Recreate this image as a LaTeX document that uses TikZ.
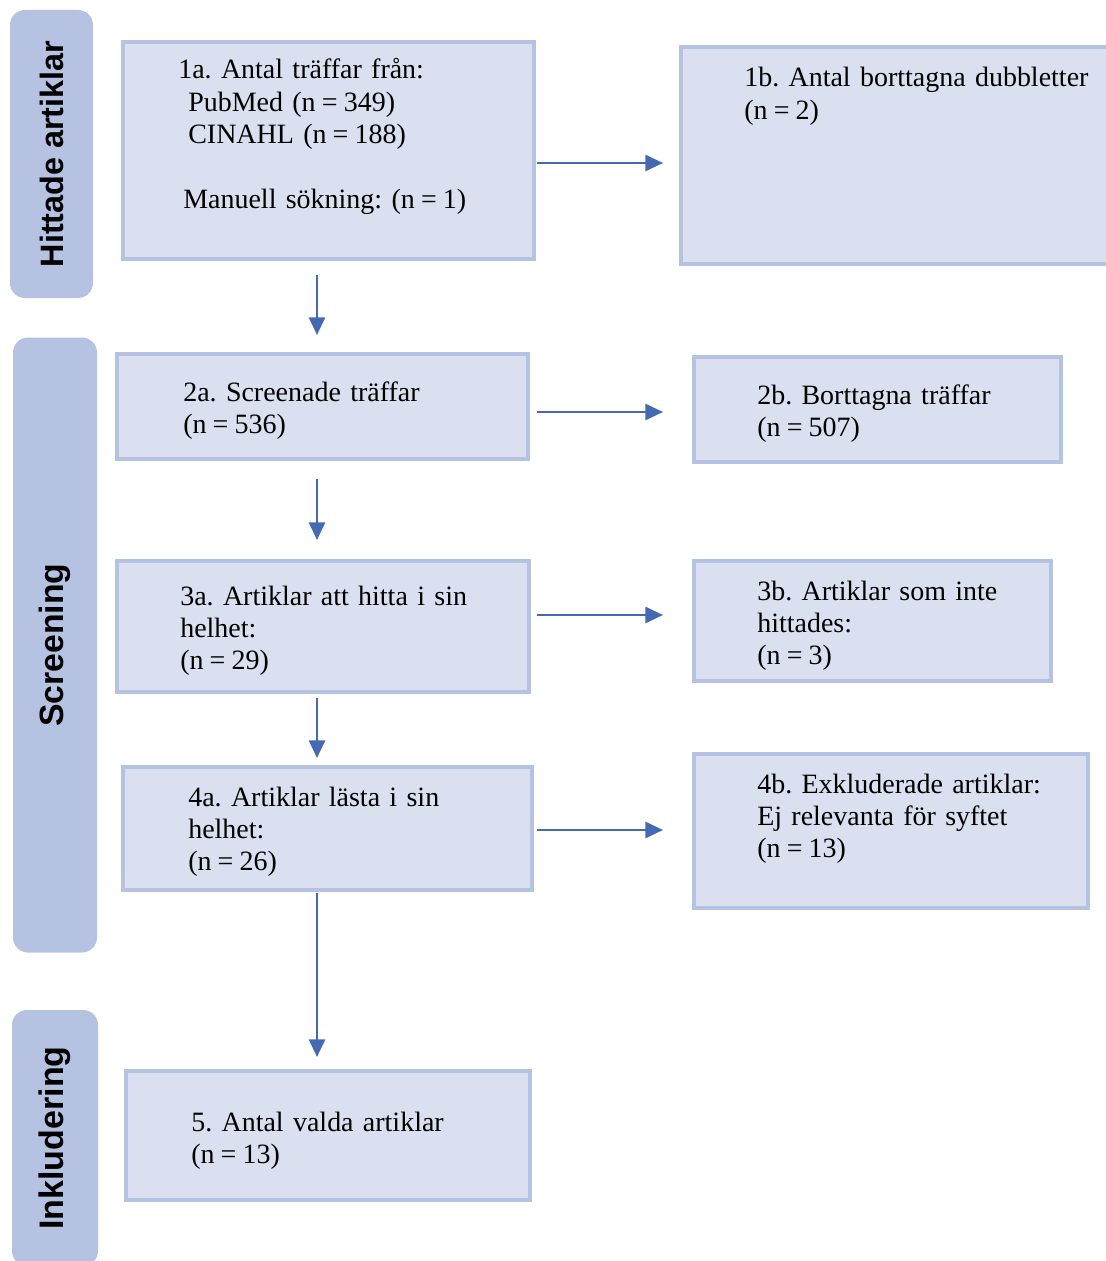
\documentclass[tikz,border=0pt]{standalone}
\usepackage{fontspec}
\setmainfont{Liberation Serif}
\newfontfamily\sidefont{Liberation Sans}
\usetikzlibrary{positioning, arrows.meta, math, calc}

\definecolor{boxFill}{HTML}{DAE0F0}
\definecolor{boxLine}{HTML}{B5C2E2}
\definecolor{sideFill}{HTML}{B5C2E2}
\definecolor{arrowBlue}{HTML}{4669B4}

\begin{document}
\frenchspacing
\begin{tikzpicture}[x=0.25mm, y=-0.25mm]
		\tikzmath{
			\px     = 0.25;  %one pixel of the reference, in mm
			\lineW  = 4;     %box border width
			\arrW   = 2.7;   %arrow line width
		}
		\tikzstyle{Box} = [
			draw=boxLine,
			fill=boxFill,
			line width=\lineW*\px mm,
			anchor=north west,
			inner sep=0
		]
		\tikzstyle{Txt} = [
			anchor=base west,
			align=left,
			text width=110mm,
			inner sep=0,
			font=\fontsize{19.9}{23.1}\selectfont
		]
		\tikzstyle{SideLbl} = [
			fill=sideFill,
			rounded corners=3.75mm,
			rotate=90,
			inner sep=0,
			font=\sidefont\bfseries
		]
		\tikzstyle{Arrow} = [
			draw=arrowBlue,
			line width=\arrW*\px mm,
			-{Triangle[length=4.4mm, width=4mm]}
		]
		\newcommand{\eq}{\hspace{0.22em}=\hspace{0.22em}}
		\useasboundingbox (0,0) rectangle (1106,1261);

		%%%%%%%%%%%%%%%%%%%%%%%%%%===---SIDE LABELS---===%%%%%%%%%%%%%%%%%%%%%%%%%%
		\node (s1) [SideLbl, minimum width=288*\px mm, minimum height=83*\px mm] at (51.5,154) {\fontsize{23}{23}\selectfont Hittade artiklar};
		\node (s2) [SideLbl, minimum width=615*\px mm, minimum height=84*\px mm] at (55,645) {\fontsize{24}{24}\selectfont Screening};
		\node (s3) [SideLbl, minimum width=256*\px mm, minimum height=86*\px mm] at (55,1138) {\fontsize{24.2}{24.2}\selectfont Inkludering};
		%%%%%%%%%%%%%%%%%%%%%%%%%%===---FIRST ROW---===%%%%%%%%%%%%%%%%%%%%%%%%%%
		\node (b1a) [Box, minimum width=411*\px mm, minimum height=217*\px mm] at (121,40) {};
		\node (t1a) [Txt] at ($(b1a.north west)+(57,39)$) {1a. Antal träffar från:\\
			\hspace*{2.5mm}PubMed (n\eq 349)\\
			\hspace*{2.5mm}CINAHL (n\eq 188)\\[8.1mm]
			\hspace*{1.25mm}Manuell sökning: (n\eq 1)};
		\node (b1b) [Box, minimum width=440*\px mm, minimum height=217*\px mm] at (679,45) {};
		\node (t1b) [Txt] at ($(b1b.north west)+(65,42)$) {1b. Antal borttagna dubbletter\\(n\eq 2)};
		%%%%%%%%%%%%%%%%%%%%%%%%%%===---SECOND ROW---===%%%%%%%%%%%%%%%%%%%%%%%%%%
		\node (b2a) [Box, minimum width=411*\px mm, minimum height=105*\px mm] at (115,352) {};
		\node (t2a) [Txt] at ($(b2a.north west)+(68,49)$) {2a. Screenade träffar\\(n\eq 536)};
		\node (b2b) [Box, minimum width=367*\px mm, minimum height=105*\px mm] at (692,355) {};
		\node (t2b) [Txt] at ($(b2b.north west)+(65,49)$) {2b. Borttagna träffar\\(n\eq 507)};
		%%%%%%%%%%%%%%%%%%%%%%%%%%===---THIRD ROW---===%%%%%%%%%%%%%%%%%%%%%%%%%%
		\node (b3a) [Box, minimum width=412*\px mm, minimum height=131*\px mm] at (115,559) {};
		\node (t3a) [Txt] at ($(b3a.north west)+(65,46)$) {3a. Artiklar att hitta i sin\\helhet:\\(n\eq 29)};
		\node (b3b) [Box, minimum width=357*\px mm, minimum height=120*\px mm] at (692,559) {};
		\node (t3b) [Txt] at ($(b3b.north west)+(65,41)$) {3b. Artiklar som inte\\hittades:\\(n\eq 3)};
		%%%%%%%%%%%%%%%%%%%%%%%%%%===---FOURTH ROW---===%%%%%%%%%%%%%%%%%%%%%%%%%%
		\node (b4a) [Box, minimum width=409*\px mm, minimum height=123*\px mm] at (121,765) {};
		\node (t4a) [Txt] at ($(b4a.north west)+(67,41)$) {4a. Artiklar lästa i sin\\helhet:\\(n\eq 26)};
		\node (b4b) [Box, minimum width=394*\px mm, minimum height=154*\px mm] at (692,752) {};
		\node (t4b) [Txt] at ($(b4b.north west)+(65,41)$) {4b. Exkluderade artiklar:\\Ej relevanta för syftet\\(n\eq 13)};
		%%%%%%%%%%%%%%%%%%%%%%%%%%===---FIFTH ROW---===%%%%%%%%%%%%%%%%%%%%%%%%%%
		\node (b5) [Box, minimum width=404*\px mm, minimum height=129*\px mm] at (124,1069) {};
		\node (t5) [Txt] at ($(b5.north west)+(67,62)$) {5. Antal valda artiklar\\(n\eq 13)};
		%%%%%%%%%%%%%%%%%%%%%%%%%%===---ARROWS---===%%%%%%%%%%%%%%%%%%%%%%%%%%
		\draw [Arrow, shorten <=1*\px mm, shorten >=16*\px mm] ([yshift=-12.5*\px mm]b1a.east) -- ([yshift=-7.5*\px mm]b1b.west);
		\draw [Arrow, shorten <=7*\px mm, shorten >=29*\px mm] ([yshift=-5.5*\px mm]b2a.east) -- ([yshift=-2.5*\px mm]b2b.west);
		\draw [Arrow, shorten <=6*\px mm, shorten >=29*\px mm] ([yshift=11.5*\px mm]b3a.east) -- ([yshift=6*\px mm]b3b.west);
		\draw [Arrow, shorten <=3*\px mm, shorten >=29*\px mm] ([yshift=-1.5*\px mm]b4a.east) -- ([yshift=1*\px mm]b4b.west);
		\draw [Arrow, shorten <=14*\px mm, shorten >=17*\px mm] ([xshift=-11.5*\px mm]b1a.south) -- ([xshift=-5.5*\px mm]b2a.north);
		\draw [Arrow, shorten <=18*\px mm, shorten >=19*\px mm] ([xshift=-5.5*\px mm]b2a.south) -- ([xshift=-6*\px mm]b3a.north);
		\draw [Arrow, shorten <=4*\px mm, shorten >=7*\px mm] ([xshift=-6*\px mm]b3a.south) -- ([xshift=-10.5*\px mm]b4a.north);
		\draw [Arrow, shorten <=1*\px mm, shorten >=12*\px mm] ([xshift=-10.5*\px mm]b4a.south) -- ([xshift=-11*\px mm]b5.north);
	\end{tikzpicture}
\end{document}
